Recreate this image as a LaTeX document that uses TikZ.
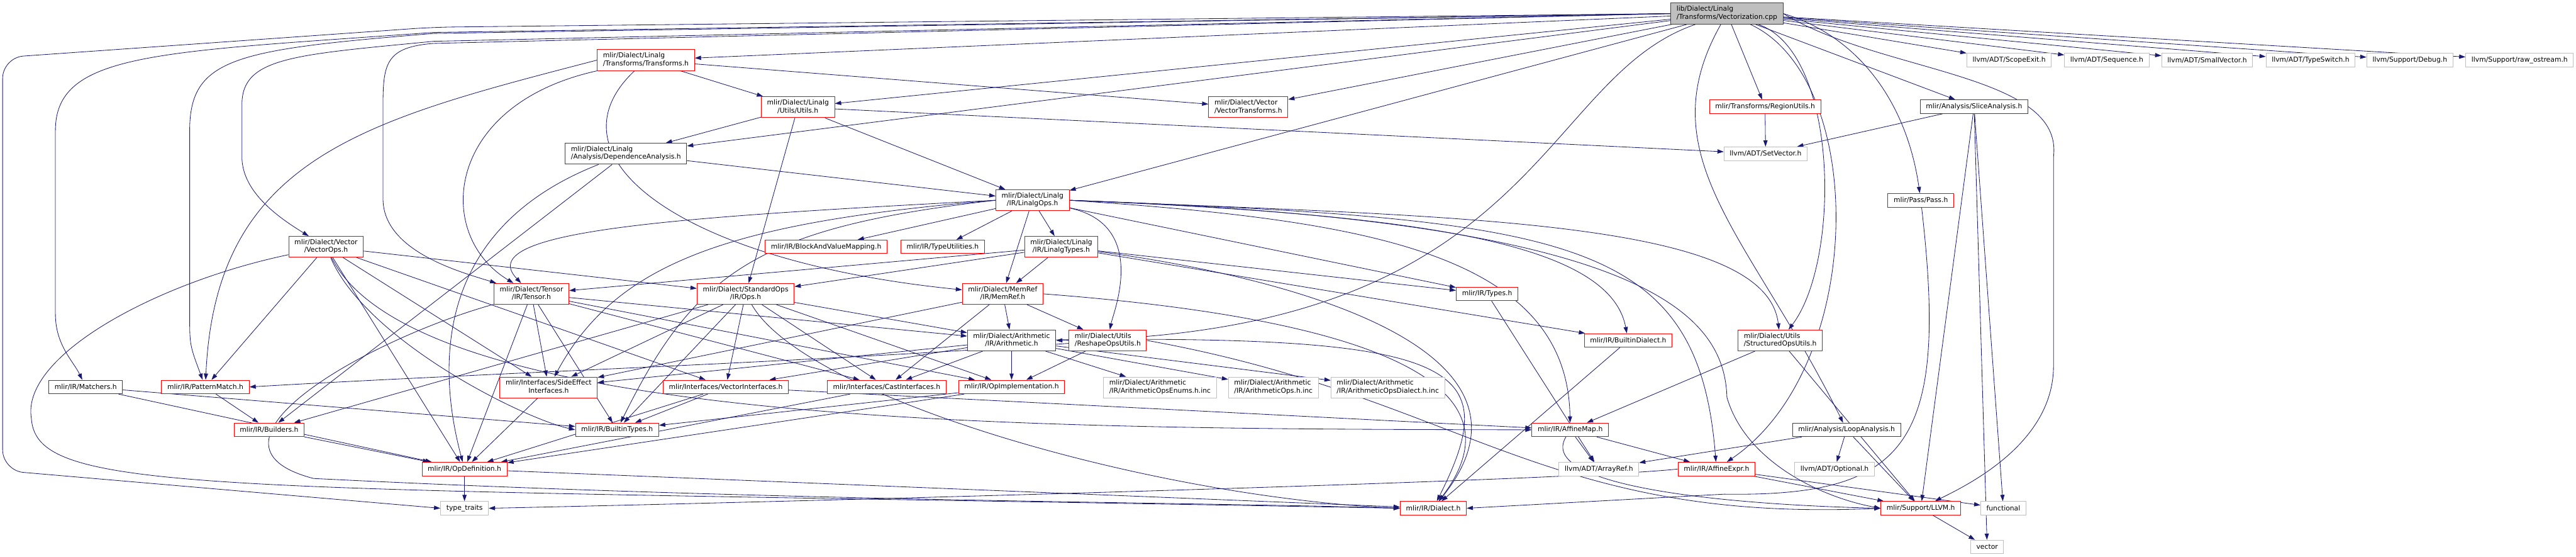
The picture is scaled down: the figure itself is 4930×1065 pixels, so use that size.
\documentclass[tikz,border=0pt]{standalone}
\usepackage{fontspec}
\setmainfont{DejaVu Sans}
\usetikzlibrary{arrows.meta,backgrounds}
\definecolor{incblue}{HTML}{191970}
\definecolor{incred}{HTML}{FF0000}
\definecolor{incgray}{HTML}{BFBFBF}
\definecolor{incdark}{HTML}{404040}
% two-line label: first line flush left, second centred
\newcommand{\twol}[2]{\begin{tabular}{@{}l@{}}#1\\\multicolumn{1}{@{}c@{}}{#2}\end{tabular}}

\begin{document}
\begin{tikzpicture}[x=1pt,y=-1pt,
    hdr/.style={draw,fill=white,line width=1.2pt,inner xsep=11pt,inner ysep=5pt,
      minimum height=26pt,font=\fontsize{13}{15}\selectfont},
    redhdr/.style={hdr,draw=incred},
    grayhdr/.style={hdr,draw=incgray},
    darkhdr/.style={hdr,draw=incdark},
    inc/.style={draw=incblue,line width=1pt,-{Triangle[length=12pt,width=8pt]}}]
  \useasboundingbox (0,0) rectangle (4930,1065);
  % source file
  \node[darkhdr,fill=incgray] (main) at (3305,26) {\twol{lib/Dialect/Linalg}{/Transforms/Vectorization.cpp}};
  % linalg and vector headers
  \node[redhdr] (tr) at (1236,115) {\twol{mlir/Dialect/Linalg}{/Transforms/Transforms.h}};
  \node[redhdr] (ut) at (1527,205) {\twol{mlir/Dialect/Linalg}{/Utils/Utils.h}};
  \node[darkhdr] (dep) at (1198,294) {\twol{mlir/Dialect/Linalg}{/Analysis/DependenceAnalysis.h}};
  \node[redhdr] (vops) at (624,472) {\twol{mlir/Dialect/Vector}{/VectorOps.h}};
  \node[redhdr] (vtr) at (2389,205) {\twol{mlir/Dialect/Vector}{/VectorTransforms.h}};
  \node[redhdr] (lops) at (1976,383) {\twol{mlir/Dialect/Linalg}{/IR/LinalgOps.h}};
  \node[redhdr] (bvm) at (1581,472) {mlir/IR/BlockAndValueMapping.h};
  \node[redhdr] (tyu) at (1804,472) {mlir/IR/TypeUtilities.h};
  \node[redhdr] (ltyp) at (2031,472) {\twol{mlir/Dialect/Linalg}{/IR/LinalgTypes.h}};
  % top row on the right
  \node[redhdr] (rgu) at (3378,204) {mlir/Transforms/RegionUtils.h};
  \node[grayhdr] (setv) at (3379,294) {llvm/ADT/SetVector.h};
  \node[grayhdr] (scope) at (3845,115) {llvm/ADT/ScopeExit.h};
  \node[grayhdr] (seq) at (4032,115) {llvm/ADT/Sequence.h};
  \node[grayhdr] (smv) at (4224,115) {llvm/ADT/SmallVector.h};
  \node[grayhdr] (tsw) at (4422,115) {llvm/ADT/TypeSwitch.h};
  \node[grayhdr] (dbg) at (4612,115) {llvm/Support/Debug.h};
  \node[grayhdr] (ros) at (4822,115) {llvm/Support/raw\_ostream.h};
  \node[darkhdr] (slice) at (3778,204) {mlir/Analysis/SliceAnalysis.h};
  \node[redhdr] (pass) at (3676,383) {mlir/Pass/Pass.h};
  % IR headers
  \node[darkhdr] (match) at (164,740) {mlir/IR/Matchers.h};
  \node[redhdr] (pm) at (393,740) {mlir/IR/PatternMatch.h};
  \node[redhdr] (bld) at (515,822) {mlir/IR/Builders.h};
  \node[redhdr] (opdef) at (889,897) {mlir/IR/OpDefinition.h};
  \node[redhdr] (tensor) at (1017,562) {\twol{mlir/Dialect/Tensor}{/IR/Tensor.h}};
  \node[redhdr] (std) at (1427,562) {\twol{mlir/Dialect/StandardOps}{/IR/Ops.h}};
  \node[redhdr] (sei) at (1050,741) {\twol{mlir/Interfaces/SideEffect}{Interfaces.h}};
  \node[redhdr] (vi) at (1389,740) {mlir/Interfaces/VectorInterfaces.h};
  \node[redhdr] (ci) at (1697,740) {mlir/Interfaces/CastInterfaces.h};
  \node[redhdr] (bt) at (1181,822) {mlir/IR/BuiltinTypes.h};
  \node[grayhdr] (tt) at (889,972) {type\_traits};
  \node[redhdr] (memref) at (1919,562) {\twol{mlir/Dialect/MemRef}{/IR/MemRef.h}};
  \node[darkhdr] (arith) at (1936,651) {\twol{mlir/Dialect/Arithmetic}{/IR/Arithmetic.h}};
  \node[redhdr] (reshape) at (2120,651) {\twol{mlir/Dialect/Utils}{/ReshapeOpsUtils.h}};
  \node[redhdr] (opimpl) at (1936,740) {mlir/IR/OpImplementation.h};
  \node[grayhdr] (aenum) at (2220,741) {\twol{mlir/Dialect/Arithmetic}{/IR/ArithmeticOpsEnums.h.inc}};
  \node[grayhdr] (aops) at (2437,741) {\twol{mlir/Dialect/Arithmetic}{/IR/ArithmeticOps.h.inc}};
  \node[grayhdr] (adial) at (2656,741) {\twol{mlir/Dialect/Arithmetic}{/IR/ArithmeticOpsDialect.h.inc}};
  \node[redhdr] (types) at (2846,562) {mlir/IR/Types.h};
  \node[redhdr] (bdial) at (3116,651) {mlir/IR/BuiltinDialect.h};
  \node[redhdr] (amap) at (3005,822) {mlir/IR/AffineMap.h};
  \node[grayhdr] (aref) at (3060,897) {llvm/ADT/ArrayRef.h};
  \node[redhdr] (aexpr) at (3285,897) {mlir/IR/AffineExpr.h};
  \node[redhdr] (dial) at (2743,972) {mlir/IR/Dialect.h};
  \node[redhdr] (sou) at (3407,651) {\twol{mlir/Dialect/Utils}{/StructuredOpsUtils.h}};
  \node[darkhdr] (loop) at (3534,822) {mlir/Analysis/LoopAnalysis.h};
  \node[grayhdr] (opt) at (3511,897) {llvm/ADT/Optional.h};
  \node[redhdr] (llvm) at (3676,972) {mlir/Support/LLVM.h};
  \node[grayhdr] (func) at (3834,972) {functional};
  \node[grayhdr] (vec) at (3803,1046) {vector};

  \begin{scope}[on background layer]
    % straight includes
    \foreach \a/\b in {main/tr,main/ut,main/dep,main/lops,main/vtr,main/rgu,main/slice,
        main/scope,main/seq,main/smv,main/tsw,main/dbg,main/ros,
        tr/ut,tr/vtr,ut/dep,ut/lops,ut/setv,ut/std,dep/lops,dep/bld,
        vops/std,vops/pm,vops/opdef,vops/sei,vops/vi,
        lops/ltyp,lops/memref,lops/bvm,lops/tyu,lops/types,
        ltyp/tensor,ltyp/std,ltyp/memref,ltyp/types,ltyp/bdial,
        tensor/opdef,tensor/bt,tensor/sei,tensor/arith,tensor/opimpl,tensor/ci,
        std/bld,std/sei,std/bt,std/vi,std/opimpl,std/ci,std/arith,
        memref/sei,memref/ci,memref/arith,memref/reshape,
        arith/sei,arith/vi,arith/ci,arith/opimpl,arith/aenum,arith/aops,arith/adial,
        reshape/opimpl,sei/opdef,vi/bt,vi/opdef,vi/amap,ci/opdef,opimpl/bt,opimpl/opdef,
        pm/bld,match/opdef,match/bt,bld/opdef,opdef/tt,opdef/dial,
        types/aref,bdial/dial,amap/aref,amap/aexpr,aexpr/llvm,aexpr/func,
        sou/amap,sou/llvm,loop/aref,loop/opt,loop/llvm,
        slice/setv,slice/llvm,slice/func,slice/vec,rgu/setv,llvm/vec}
      \draw[inc] (\a) -- (\b);
    % long routes from the source file
    \draw[inc,rounded corners=40pt] (main.west) -- (830,52) -- (5,110) -- (5,900) -- (tt.west);
    \draw[inc] (main.west) -- (830,62) .. controls (300,100) and (106,100) .. (106,250)
      -- (106,600) .. controls (106,660) and (140,690) .. (match);
    \draw[inc] (main.west) -- (830,64) .. controls (450,95) and (363,110) .. (363,250)
      -- (363,600) .. controls (363,660) .. (pm);
    \draw[inc] (main.west) -- (830,79) .. controls (560,105) and (463,110) .. (463,200)
      -- (463,300) .. controls (463,370) and (540,420) .. (vops);
    \draw[inc] (main.west) -- (830,83) .. controls (740,90) and (733,120) .. (733,200)
      -- (733,380) .. controls (733,480) and (880,520) .. (tensor);
    \draw[inc] (main) .. controls (2943,150) and (2943,640) .. (arith.east);
    \draw[inc] (main.east) .. controls (3560,70) and (3650,200) .. (pass);
    \draw[inc] (main) .. controls (3520,100) and (3523,500) .. (sou);
    \draw[inc] (main) .. controls (3574,150) and (3574,700) .. (aexpr);
    \draw[inc] (main) .. controls (3150,300) and (3350,450) .. (loop);
    \draw[inc] (main.east) .. controls (3600,140) and (3950,140) .. (3930,300)
      -- (3930,700) .. controls (3930,850) and (3760,930) .. (llvm);
    % other curved includes
    \draw[inc] (tr.west) .. controls (700,230) and (413,300) .. (pm);
    \draw[inc] (tr) .. controls (850,200) and (830,450) .. (tensor);
    \draw[inc] (tr) .. controls (1040,300) and (1300,500) .. (memref);
    \draw[inc] (dep) .. controls (800,450) and (850,750) .. (opdef);
    \draw[inc] (vops) .. controls (700,650) and (1000,800) .. (bt.west);
    \draw[inc] (vops) .. controls (800,820) and (2000,820) .. (amap.west);
    \draw[inc] (vops) .. controls (300,540) and (40,680) .. (60,800)
      .. controls (70,950) and (400,930) .. (dial.west);
    \draw[inc] (lops) .. controls (2200,430) and (2130,600) .. (reshape);
    \draw[inc] (lops.west) .. controls (1300,415) and (900,440) .. (tensor);
    \draw[inc] (lops.west) .. controls (1400,425) and (1180,500) .. (sei);
    \draw[inc] (lops.west) .. controls (1450,435) and (1330,520) .. (bt);
    \draw[inc] (lops.east) .. controls (2800,415) and (3380,420) .. (sou);
    \draw[inc] (lops.east) .. controls (2700,410) and (3080,460) .. (bdial);
    \draw[inc] (lops.east) .. controls (2600,420) and (3000,480) .. (amap);
    \draw[inc] (lops.east) .. controls (3000,420) and (3250,450) .. (aexpr);
    \draw[inc] (lops.east) .. controls (3150,420) and (3300,600) .. (3305,760)
      .. controls (3340,880) and (3480,950) .. (llvm.west);
    \draw[inc] (ltyp) .. controls (2400,520) and (3000,650) .. (dial);
    \draw[inc] (memref.east) .. controls (2500,600) and (2950,700) .. (dial);
    \draw[inc] (arith) .. controls (2800,640) and (2880,700) .. (dial);
    \draw[inc] (std) .. controls (1540,760) and (2200,950) .. (dial.west);
    \draw[inc] (tensor) .. controls (700,650) and (350,850) .. (600,915)
      .. controls (1500,960) and (2300,960) .. (dial.west);
    \draw[inc] (reshape) .. controls (1600,690) and (900,715) .. (pm.east);
    \draw[inc] (reshape.east) .. controls (2800,760) and (2950,1000) .. (llvm.west);
    \draw[inc] (amap) .. controls (2940,930) and (3300,965) .. (llvm.west);
    \draw[inc] (aexpr.west) .. controls (3000,920) and (1500,960) .. (tt.east);
    \draw[inc] (pass) .. controls (3730,850) and (3650,950) .. (3300,945) -- (dial.east);
  \end{scope}
\end{tikzpicture}
\end{document}
